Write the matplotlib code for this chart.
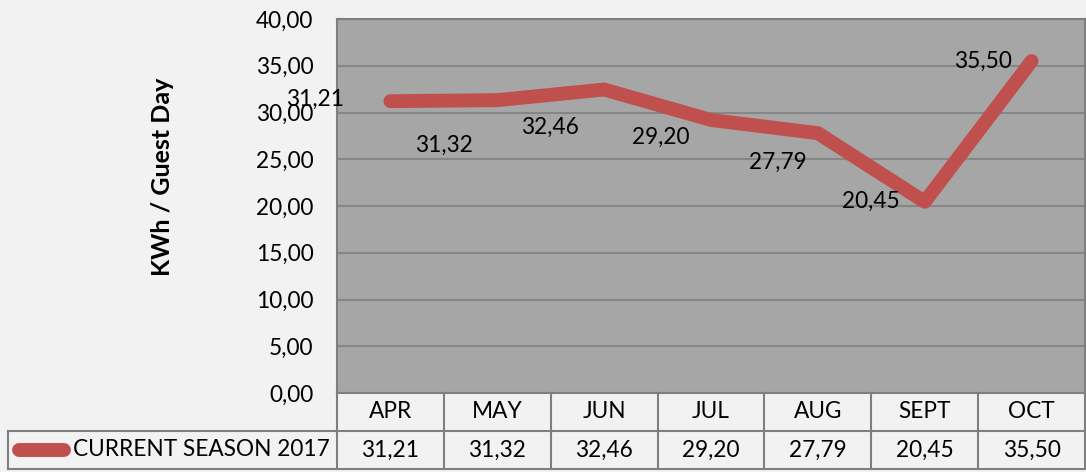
import numpy as np
import matplotlib
matplotlib.use('Agg')
import matplotlib.pyplot as plt
from matplotlib.lines import Line2D

months = ['APR', 'MAY', 'JUN', 'JUL', 'AUG', 'SEPT', 'OCT']
season_2017 = [31.21, 31.32, 32.46, 29.20, 27.79, 20.45, 35.50]
series_name = 'CURRENT SEASON 2017'
yticks = [0, 5, 10, 15, 20, 25, 30, 35, 40]

# label offsets in pixels (dx, dy) relative to point, dy positive = down
label_offsets = [(-75, -2), (-53, 45), (-54, 38), (-50, 17), (-40, 29), (-54, 0), (-49, 0)]

def fmt(v):
    return ('%.2f' % v).replace('.', ',')

plt.rcParams['font.family'] = ['Lato', 'DejaVu Sans']
red = '#c0504d'
bg = '#f2f2f2'
edge = '#7f7f7f'
fs = 16.3

W, H = 1086, 472
fig = plt.figure(figsize=(W / 100, H / 100), dpi=100, facecolor=bg)
x0, x1, ytop, ybot = 337, 1085, 19, 393
ax = fig.add_axes([x0 / W, (H - ybot) / H, (x1 - x0) / W, (ybot - ytop) / H])
ax.set_facecolor('#a6a6a6')
for s in ax.spines.values():
    s.set_color(edge)
    s.set_linewidth(1.5)

x = np.arange(len(months))
ax.set_xlim(-0.5, len(months) - 0.5)
ax.set_ylim(0, 40)
ax.set_yticks(yticks)
ax.set_yticklabels([fmt(v) for v in yticks], fontsize=fs)
ax.tick_params(axis='y', length=0, pad=17)
ax.set_xticks([])
ax.grid(axis='y', color='#868686', linewidth=1.5)
ax.set_axisbelow(True)

ax.plot(x, season_2017, color=red, linewidth=10, solid_capstyle='round',
        solid_joinstyle='round', zorder=3)

for xi, v, (dx, dy) in zip(x, season_2017, label_offsets):
    ax.annotate(fmt(v), (xi, v), xytext=(dx * 0.72, -dy * 0.72),
                textcoords='offset points', ha='center', va='center',
                fontsize=fs, zorder=4)

# y axis title
fig.text(163 / W, 1 - 177 / H, 'KWh / Guest Day', rotation=90, ha='center',
         va='center', fontsize=18, fontweight='bold')

# data table below the plot
ah = ybot - ytop
r1 = -(431 - ybot) / ah
r2 = -(469 - ybot) / ah
unit = (x1 - x0) / len(months)
left = (8 - x0) / unit - 0.5
tr = ax.get_xaxis_transform()
tl = dict(color=edge, linewidth=1.5, transform=tr, clip_on=False)
for i in range(len(months) + 1):
    ax.add_line(Line2D([i - 0.5, i - 0.5], [0, r2], **tl))
ax.add_line(Line2D([left, len(months) - 0.5], [r1, r1], **tl))
ax.add_line(Line2D([left, len(months) - 0.5], [r2, r2], **tl))
ax.add_line(Line2D([left, left], [r1, r2], **tl))
for xi, m, v in zip(x, months, season_2017):
    ax.text(xi, r1 / 2, m, transform=tr, ha='center', va='center', fontsize=fs)
    ax.text(xi, (r1 + r2) / 2, fmt(v), transform=tr, ha='center', va='center', fontsize=fs)
lx0 = (19 - x0) / unit - 0.5
lx1 = (64 - x0) / unit - 0.5
ax.add_line(Line2D([lx0, lx1], [(r1 + r2) / 2] * 2, color=red, linewidth=10,
                   solid_capstyle='round', transform=tr, clip_on=False))
ax.text((73 - x0) / unit - 0.5, (r1 + r2) / 2, series_name, transform=tr,
        ha='left', va='center', fontsize=fs)

fig.savefig('out.png', dpi=100, facecolor=bg)
